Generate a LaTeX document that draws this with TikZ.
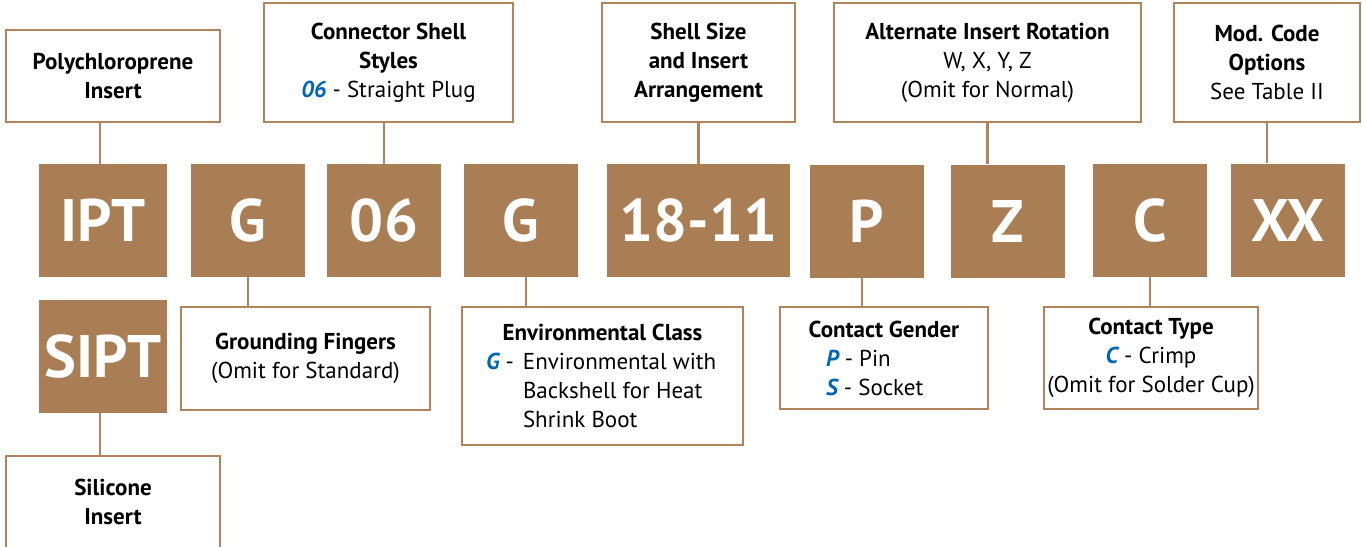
\documentclass[tikz,border=0pt]{standalone}
\usepackage{fontspec}
\setmainfont{PT Sans}
\usepackage{xcolor}
\usepackage{tikz}
\definecolor{cellcolor}{RGB}{170,126,84}
\definecolor{rulecolor}{RGB}{176,132,92}
\colorlet{linkcolor}{rulecolor}
\definecolor{keycolor}{RGB}{0,102,179}
\newcommand{\optkey}[1]{\textcolor{keycolor}{\bfseries\itshape #1}}
\tikzset{
	codebox/.style = {
		,rectangle
		,fill			= cellcolor
		,text			= white
		,inner sep		= 0pt
		,minimum width	= 114pt
		,minimum height	= 113pt
		,font			= \bfseries\fontsize{60}{60}\selectfont
	}
	,infobox/.style	= {
		,rectangle
		,draw			= rulecolor
		,line width		= 2.5pt
		,fill			= white
		,inner sep		= 0pt
		,align			= center
		,font			= \fontsize{23}{29}\selectfont
	}
	,link/.style	= {draw = linkcolor, line width = 2.5pt}
}

\begin{document}
\begin{tikzpicture}[x=1pt, y=-1pt]
	\useasboundingbox (0,0) rectangle (1362,546);
	\clip (0,0) rectangle (1362,546);

	% the code letters
	\node[codebox, minimum width = 128pt] (ipt)  at (103,220.5)  {IPT};
	\node[codebox] (cg)    at (248,220)    {G};
	\node[codebox] (c06)   at (384,220.5)  {06};
	\node[codebox] (cenv)  at (521,220)    {G};
	\node[codebox, minimum width = 183pt] (c1811) at (698.5,220.5) {18-11};
	\node[codebox] (cp)    at (867,221)    {P};
	\node[codebox] (cz)    at (1008,221)   {Z};
	\node[codebox] (cc)    at (1150,220)   {C};
	\node[codebox] (cxx)   at (1288,220)   {XX};
	\node[codebox, minimum width = 128pt] (sipt) at (103,356.5) {SIPT};

	% the boxes above
	\node[infobox, minimum width = 214pt, minimum height = 92pt]  (poly)  at (113,76)
		{\textbf{Polychloroprene}\\\textbf{Insert}};
	\node[infobox, minimum width = 249pt, minimum height = 119pt] (shell) at (388.5,62.5)
		{\textbf{Connector Shell}\\\textbf{Styles}\\\optkey{06} - Straight Plug};
	\node[infobox, minimum width = 193pt, minimum height = 119pt] (size)  at (698.5,62.5)
		{\textbf{Shell Size}\\\textbf{and Insert}\\\textbf{Arrangement}};
	\node[infobox, minimum width = 307pt, minimum height = 119pt] (rot)   at (987.5,62.5)
		{\textbf{Alternate Insert Rotation}\\W, X, Y, Z\\(Omit for Normal)};
	\node[infobox, minimum width = 186pt, minimum height = 119pt] (mod)   at (1267,62.5)
		{\textbf{Mod. Code}\\\textbf{Options}\\See Table II};

	% the boxes below
	\node[infobox, minimum width = 249pt, minimum height = 103pt] (ground) at (305.5,358.5)
		{\textbf{Grounding Fingers}\\(Omit for Standard)};
	\node[infobox, minimum width = 281pt, minimum height = 138pt] (env)    at (602.5,376)
		{\textbf{Environmental Class}\\
		\makebox[233pt][l]{\makebox[37pt][l]{\optkey{G} -}Environmental with}\\
		\makebox[233pt][l]{\hspace{37pt}Backshell for Heat}\\
		\makebox[233pt][l]{\hspace{37pt}Shrink Boot}};
	\node[infobox, minimum width = 208pt, minimum height = 102pt] (gender) at (884,358)
		{\textbf{Contact Gender}\\
		\makebox[116pt][l]{\optkey{P} - Pin}\\
		\makebox[116pt][l]{\optkey{S} - Socket}};
	\node[infobox, minimum width = 214pt, minimum height = 102pt] (type)   at (1151,358)
		{\textbf{Contact Type}\\\optkey{C} - Crimp\\(Omit for Solder Cup)};
	\node[infobox, minimum width = 214pt, minimum height = 92pt]  (sil)    at (113,502)
		{\textbf{Silicone}\\\textbf{Insert}};

	% the links
	\draw[link] ([xshift=-3pt]ipt.north) -- ([xshift=-3pt]ipt.north |- poly.south);
	\draw[link] (c06.north) -- (c06.north |- shell.south);
	\draw[link] (c1811.north) -- (c1811.north |- size.south);
	\draw[link] (rot.south) -- (rot.south |- cz.north);
	\draw[link] (mod.south) -- (mod.south |- cxx.north);
	\draw[link] (cg.south) -- (cg.south |- ground.north);
	\draw[link] ([xshift=5pt]cenv.south) -- ([xshift=5pt]cenv.south |- env.north);
	\draw[link] ([xshift=-5pt]cp.south) -- ([xshift=-5pt]cp.south |- gender.north);
	\draw[link] (cc.south) -- (cc.south |- type.north);
	\draw[link] ([xshift=-3pt]sipt.south) -- ([xshift=-3pt]sipt.south |- sil.north);
\end{tikzpicture}
\end{document}
